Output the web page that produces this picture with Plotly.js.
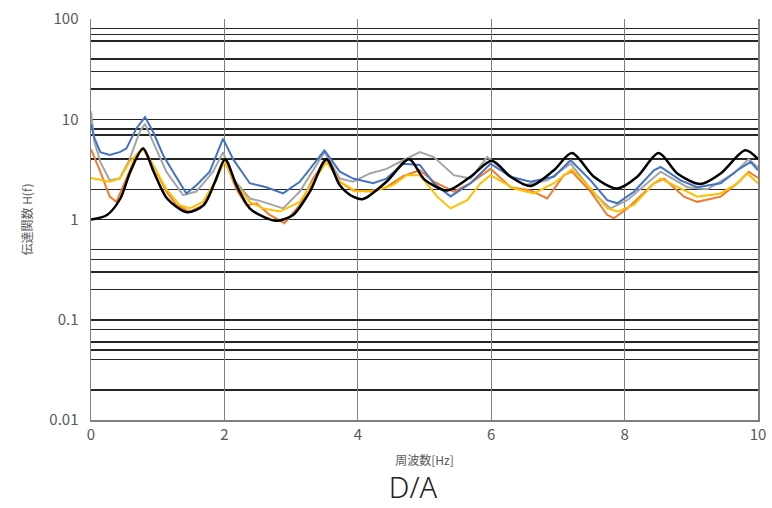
<!DOCTYPE html>
<html>
<head>
<meta charset="utf-8">
<script src="https://cdn.plot.ly/plotly-3.0.1.min.js"></script>
<style>html,body{margin:0;padding:0;background:#fff;}#chart{width:772px;height:508px;}</style>
</head>
<body>
<div id="chart"></div>
<script>
// Frequency [Hz] and transfer function values
const freqBlack = [0,0.24,0.44,0.59,0.78,0.94,1.14,1.44,1.69,1.86,2.01,2.18,2.38,2.58,2.78,3.03,3.28,3.53,3.73,3.93,4.08,4.43,4.77,5.0,5.34,5.69,6.01,6.29,6.59,6.94,7.21,7.54,7.89,8.19,8.51,8.79,9.14,9.44,9.81,10];
const hBlack    = [1.0,1.11,1.62,2.99,5.1,3.0,1.62,1.18,1.39,2.38,4.0,2.2,1.29,1.07,0.97,1.11,1.89,4.0,2.2,1.69,1.6,2.38,4.0,2.5,1.95,2.67,3.85,2.67,2.16,3.1,4.6,2.67,2.04,2.67,4.6,2.88,2.26,2.88,4.9,4.0];

const freqBlue = [0,0.05,0.14,0.28,0.43,0.53,0.68,0.81,0.93,1.08,1.23,1.43,1.58,1.78,1.98,2.13,2.38,2.63,2.88,3.13,3.33,3.5,3.73,3.93,4.23,4.43,4.68,4.93,5.14,5.39,5.69,5.99,6.29,6.59,6.94,7.19,7.49,7.74,7.89,8.14,8.44,8.54,8.84,9.09,9.44,9.69,9.89,10];
const hBlue    = [9,6.5,4.7,4.4,4.7,5.1,8.1,10.5,7.5,4.4,3.0,1.82,2.2,3.0,6.4,4.0,2.3,2.1,1.82,2.38,3.5,4.9,3.0,2.56,2.3,2.56,3.6,3.5,2.3,1.7,2.3,3.6,2.67,2.38,2.67,3.9,2.46,1.56,1.45,1.89,3.1,3.35,2.46,2.1,2.3,3.1,3.76,3.1];

const freqGray = [0,0.05,0.14,0.28,0.43,0.58,0.73,0.81,0.93,1.13,1.38,1.58,1.83,1.98,2.13,2.38,2.58,2.88,3.13,3.5,3.73,3.93,4.18,4.43,4.68,4.93,5.14,5.44,5.69,5.94,6.24,6.49,6.84,7.19,7.54,7.79,8.04,8.44,8.54,8.94,9.24,9.64,9.86,10];
const hGray    = [12,6,3.76,2.46,2.56,4.0,7.5,9,5.95,3.0,1.75,1.9,3.0,4.7,2.56,1.62,1.5,1.29,1.9,4.7,2.56,2.38,2.88,3.2,3.9,4.7,4.2,2.77,2.56,4.2,2.88,2.2,2.46,3.6,1.82,1.29,1.56,2.67,3.0,2.1,2.0,2.88,4.0,3.3];

const freqOrange = [0,0.14,0.28,0.38,0.53,0.68,0.79,0.93,1.13,1.28,1.48,1.68,1.83,2.0,2.18,2.33,2.48,2.68,2.9,3.13,3.33,3.53,3.73,3.93,4.18,4.43,4.68,4.93,5.14,5.44,5.69,5.99,6.29,6.59,6.84,7.09,7.21,7.49,7.74,7.84,8.04,8.44,8.59,8.89,9.09,9.44,9.69,9.86,10];
const hOrange    = [5,3.0,1.69,1.5,2.56,4.4,5.1,3.5,1.9,1.39,1.2,1.39,2.2,4.0,2.0,1.39,1.45,1.11,0.92,1.39,2.56,4.0,2.38,1.95,1.9,2.1,2.7,3.1,2.38,1.9,2.3,3.2,2.1,1.95,1.62,2.77,3.0,1.9,1.11,1.03,1.29,2.3,2.56,1.69,1.5,1.69,2.3,3.0,2.6];

const freqYellow = [0,0.28,0.43,0.58,0.77,0.93,1.13,1.33,1.48,1.68,1.86,2.0,2.18,2.38,2.58,2.83,3.13,3.38,3.53,3.73,3.98,4.28,4.53,4.73,4.93,5.19,5.39,5.64,5.84,5.99,6.34,6.64,6.94,7.21,7.49,7.74,7.89,8.14,8.44,8.54,8.84,9.09,9.44,9.69,9.84,10];
const hYellow    = [2.6,2.38,2.56,3.76,5.1,3.5,2.0,1.39,1.29,1.5,2.38,3.76,2.2,1.5,1.29,1.2,1.5,2.7,3.76,2.38,1.9,1.95,2.2,2.77,2.77,1.69,1.29,1.56,2.3,2.77,2.04,1.82,2.3,3.16,2.04,1.29,1.2,1.4,2.3,2.56,2.04,1.69,1.82,2.3,2.88,2.3];

const yTickVals = [0.01,0.1,1,10,100];
const yTickText = ['0.01','0.1','1','10','100'];
const yMinorVals = [0.02,0.04,0.05,0.06,0.08, 0.2,0.3,0.4,0.5, 2,4,7,8, 20,30,40,60,70,80];
const xTickVals = [0,2,4,6,8,10];

const traces = [
  {x: freqGray, y: hGray, mode:'lines', line:{color:'#A5A5A5', width:2}},
  {x: freqOrange, y: hOrange, mode:'lines', line:{color:'#ED7D31', width:2}},
  {x: freqYellow, y: hYellow, mode:'lines', line:{color:'#FFC000', width:2}},
  {x: freqBlue, y: hBlue, mode:'lines', line:{color:'#4472C4', width:2}},
  {x: freqBlack, y: hBlack, mode:'lines', line:{color:'#000000', width:2.5, shape:'spline', smoothing:0.8}}
];

const tickFont = {family:'"Noto Sans CJK JP", "Noto Sans", sans-serif', size:15, color:'#595959'};

const layout = {
  width:772, height:508,
  margin:{l:91, r:14, t:19, b:88},
  paper_bgcolor:'#fff', plot_bgcolor:'#fff',
  showlegend:false,
  title:{text:'D/A', x:0.535, xanchor:'center', y:0.04, yanchor:'middle', yref:'container',
         font:{family:'"Noto Sans", sans-serif', size:29, color:'#222', weight:300}},
  xaxis:{
    range:[0,10], tickmode:'array', tickvals:xTickVals, ticktext:xTickVals.map(String),
    showgrid:true, gridcolor:'#808080', gridwidth:1,
    showline:true, linecolor:'#808080', linewidth:1.5, mirror:false,
    zeroline:false, ticks:'', tickfont:tickFont,
    title:{text:'周波数[Hz]', standoff:14, font:{family:'"Noto Sans CJK JP", sans-serif', size:12, color:'#595959'}}
  },
  yaxis:{
    type:'log', range:[-2,2], tickmode:'array', tickvals:yTickVals, ticktext:yTickText,
    showgrid:true, gridcolor:'#262626', gridwidth:1.5,
    minor:{tickmode:'array', tickvals:yMinorVals, showgrid:true, gridcolor:'#262626', gridwidth:1.5, ticks:''},
    showline:true, linecolor:'#808080', linewidth:1.5, mirror:true,
    zeroline:false, ticks:'', tickfont:tickFont, ticklabelstandoff:8,
    title:{text:'伝達関数 H(f)', standoff:14, font:{family:'"Noto Sans CJK JP", sans-serif', size:12, color:'#595959'}}
  }
};

Plotly.newPlot('chart', traces, layout, {displayModeBar:false, staticPlot:true});
</script>
</body>
</html>
